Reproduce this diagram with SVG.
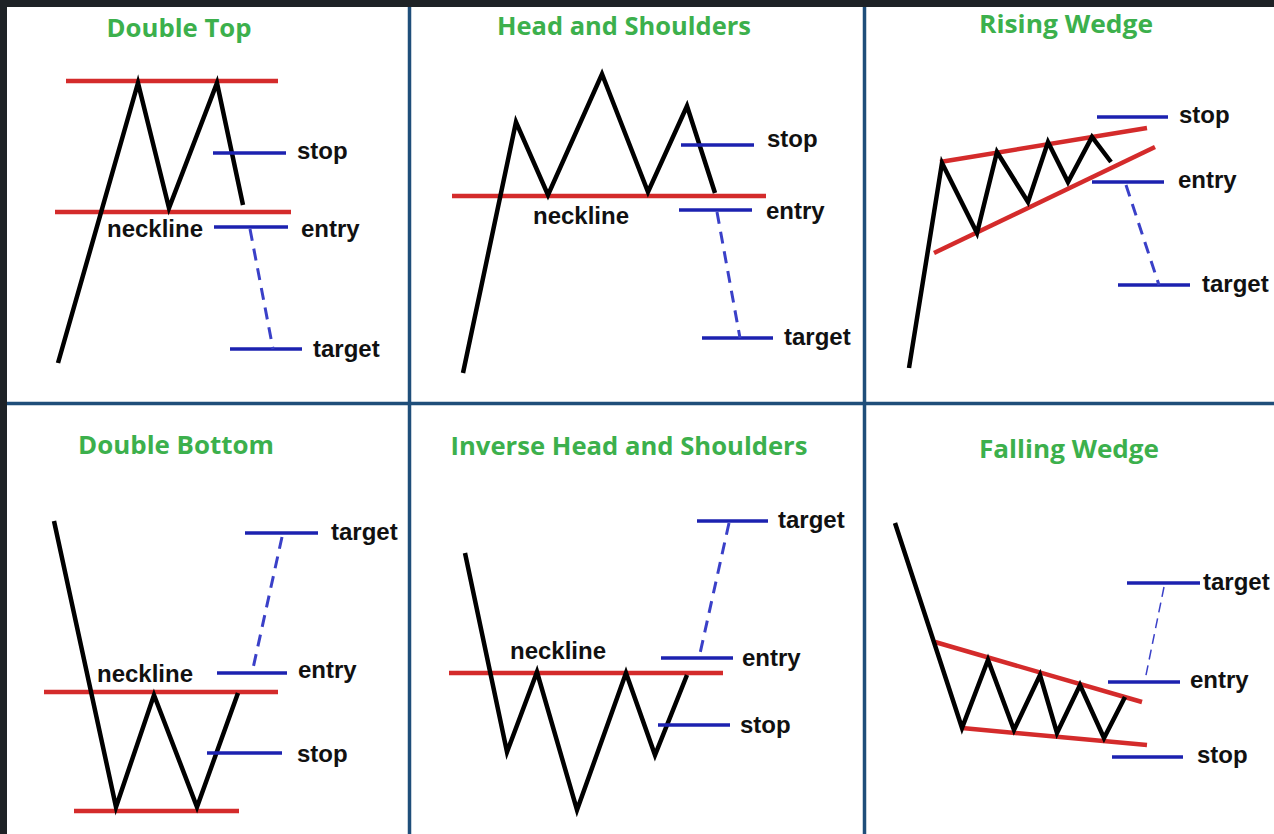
<svg xmlns="http://www.w3.org/2000/svg" width="1274" height="834" viewBox="0 0 1274 834">
<style>
.title{font-family:"Open Sans","Liberation Sans",sans-serif;font-weight:700;font-size:25px;fill:#3cb04c;text-anchor:middle}
.lbl{font-family:"Liberation Sans",Arial,sans-serif;font-weight:700;font-size:24px;fill:#111}
.price{fill:none;stroke:#000;stroke-width:4.5;stroke-linejoin:miter;stroke-linecap:butt}
.red{stroke:#d42b2b;stroke-width:4.5;fill:none}
.blue{stroke:#1c22b0;stroke-width:3.5;fill:none}
.dash{stroke:#3a40c8;stroke-width:3;stroke-dasharray:12 8;fill:none}
.dashthin{stroke:#3a40c8;stroke-width:1.5;stroke-dasharray:10 6;fill:none}
.div{stroke:#1f4e7a;stroke-width:3.5;fill:none}
</style>
<rect x="0" y="0" width="1274" height="834" fill="#ffffff"/>
<rect x="0" y="0" width="1274" height="7" fill="#1e2226"/>
<rect x="0" y="0" width="7" height="834" fill="#1e2226"/>
<g id="dividers">
<line class="div" x1="7" y1="403.5" x2="1274" y2="403.5"/>
<line class="div" x1="409.5" y1="7" x2="409.5" y2="834"/>
<line class="div" x1="864.5" y1="7" x2="864.5" y2="834"/>
</g>

<g id="double-top">
<text class="title" x="179" y="37" textLength="145" lengthAdjust="spacingAndGlyphs">Double Top</text>
<line class="red" x1="66" y1="81" x2="278" y2="81"/>
<line class="red" x1="55" y1="212" x2="291" y2="212"/>
<polyline class="price" points="58,363 138,83 169,208 217,83 243,205"/>
<line class="blue" x1="213" y1="153" x2="286" y2="153"/>
<line class="blue" x1="214" y1="227" x2="288" y2="227"/>
<line class="blue" x1="230" y1="349" x2="302" y2="349"/>
<line class="dash" x1="250" y1="229" x2="273" y2="349"/>
<text class="lbl" x="297" y="159">stop</text>
<text class="lbl" x="107" y="237">neckline</text>
<text class="lbl" x="301" y="237">entry</text>
<text class="lbl" x="313" y="357">target</text>
</g>

<g id="head-and-shoulders">
<text class="title" x="624" y="35" textLength="254" lengthAdjust="spacingAndGlyphs">Head and Shoulders</text>
<line class="red" x1="452" y1="196" x2="766" y2="196"/>
<polyline class="price" points="463,373 516,122 548,195 602,74 648,192 687,106 715,193"/>
<line class="blue" x1="681" y1="145" x2="754" y2="145"/>
<line class="blue" x1="679" y1="210" x2="752" y2="210"/>
<line class="blue" x1="702" y1="338" x2="773" y2="338"/>
<line class="dash" x1="717" y1="212" x2="740" y2="338"/>
<text class="lbl" x="767" y="147">stop</text>
<text class="lbl" x="533" y="224">neckline</text>
<text class="lbl" x="766" y="219">entry</text>
<text class="lbl" x="784" y="345">target</text>
</g>

<g id="rising-wedge">
<text class="title" x="1066" y="33" textLength="174" lengthAdjust="spacingAndGlyphs">Rising Wedge</text>
<line class="red" x1="940" y1="162" x2="1147" y2="128"/>
<line class="red" x1="934" y1="253" x2="1155" y2="147"/>
<polyline class="price" points="909,368 942,163 977,233 997,152 1028,202 1048,142 1068,182 1092,137 1111,162"/>
<line class="blue" x1="1097" y1="117" x2="1168" y2="117"/>
<line class="blue" x1="1092" y1="182" x2="1164" y2="182"/>
<line class="blue" x1="1118" y1="285" x2="1190" y2="285"/>
<line class="dash" x1="1126" y1="185" x2="1159" y2="285"/>
<text class="lbl" x="1179" y="123">stop</text>
<text class="lbl" x="1178" y="188">entry</text>
<text class="lbl" x="1202" y="292">target</text>
</g>

<g id="double-bottom">
<text class="title" x="176" y="454" textLength="196" lengthAdjust="spacingAndGlyphs">Double Bottom</text>
<line class="red" x1="44" y1="692" x2="278" y2="692"/>
<line class="red" x1="74" y1="811" x2="239" y2="811"/>
<polyline class="price" points="54,521 116,807 154,695 197,807 238,693"/>
<line class="blue" x1="245" y1="533" x2="318" y2="533"/>
<line class="blue" x1="217" y1="673" x2="287" y2="673"/>
<line class="blue" x1="207" y1="753" x2="282" y2="753"/>
<line class="dash" x1="282" y1="537" x2="252" y2="673"/>
<text class="lbl" x="331" y="540">target</text>
<text class="lbl" x="97" y="682">neckline</text>
<text class="lbl" x="298" y="678">entry</text>
<text class="lbl" x="297" y="762">stop</text>
</g>

<g id="inverse-head-and-shoulders">
<text class="title" x="629" y="455" textLength="357" lengthAdjust="spacingAndGlyphs">Inverse Head and Shoulders</text>
<line class="red" x1="449" y1="673" x2="723" y2="673"/>
<polyline class="price" points="465,553 507,752 537,672 577,810 626,673 655,755 687,675"/>
<line class="blue" x1="697" y1="521" x2="768" y2="521"/>
<line class="blue" x1="661" y1="658" x2="733" y2="658"/>
<line class="blue" x1="658" y1="725" x2="730" y2="725"/>
<line class="dash" x1="729" y1="523" x2="699" y2="658"/>
<text class="lbl" x="778" y="528">target</text>
<text class="lbl" x="510" y="659">neckline</text>
<text class="lbl" x="742" y="666">entry</text>
<text class="lbl" x="740" y="733">stop</text>
</g>

<g id="falling-wedge">
<text class="title" x="1069" y="458" textLength="180" lengthAdjust="spacingAndGlyphs">Falling Wedge</text>
<line class="red" x1="935" y1="642" x2="1142" y2="702"/>
<line class="red" x1="962" y1="728" x2="1147" y2="745"/>
<polyline class="price" points="895,523 962,728 988,660 1014,730 1040,675 1057,733 1080,685 1104,738 1125,697"/>
<line class="blue" x1="1127" y1="583" x2="1200" y2="583"/>
<line class="blue" x1="1108" y1="682" x2="1180" y2="682"/>
<line class="blue" x1="1112" y1="757" x2="1183" y2="757"/>
<line class="dashthin" x1="1164" y1="587" x2="1145" y2="680"/>
<text class="lbl" x="1203" y="590">target</text>
<text class="lbl" x="1190" y="688">entry</text>
<text class="lbl" x="1197" y="763">stop</text>
</g>
</svg>
